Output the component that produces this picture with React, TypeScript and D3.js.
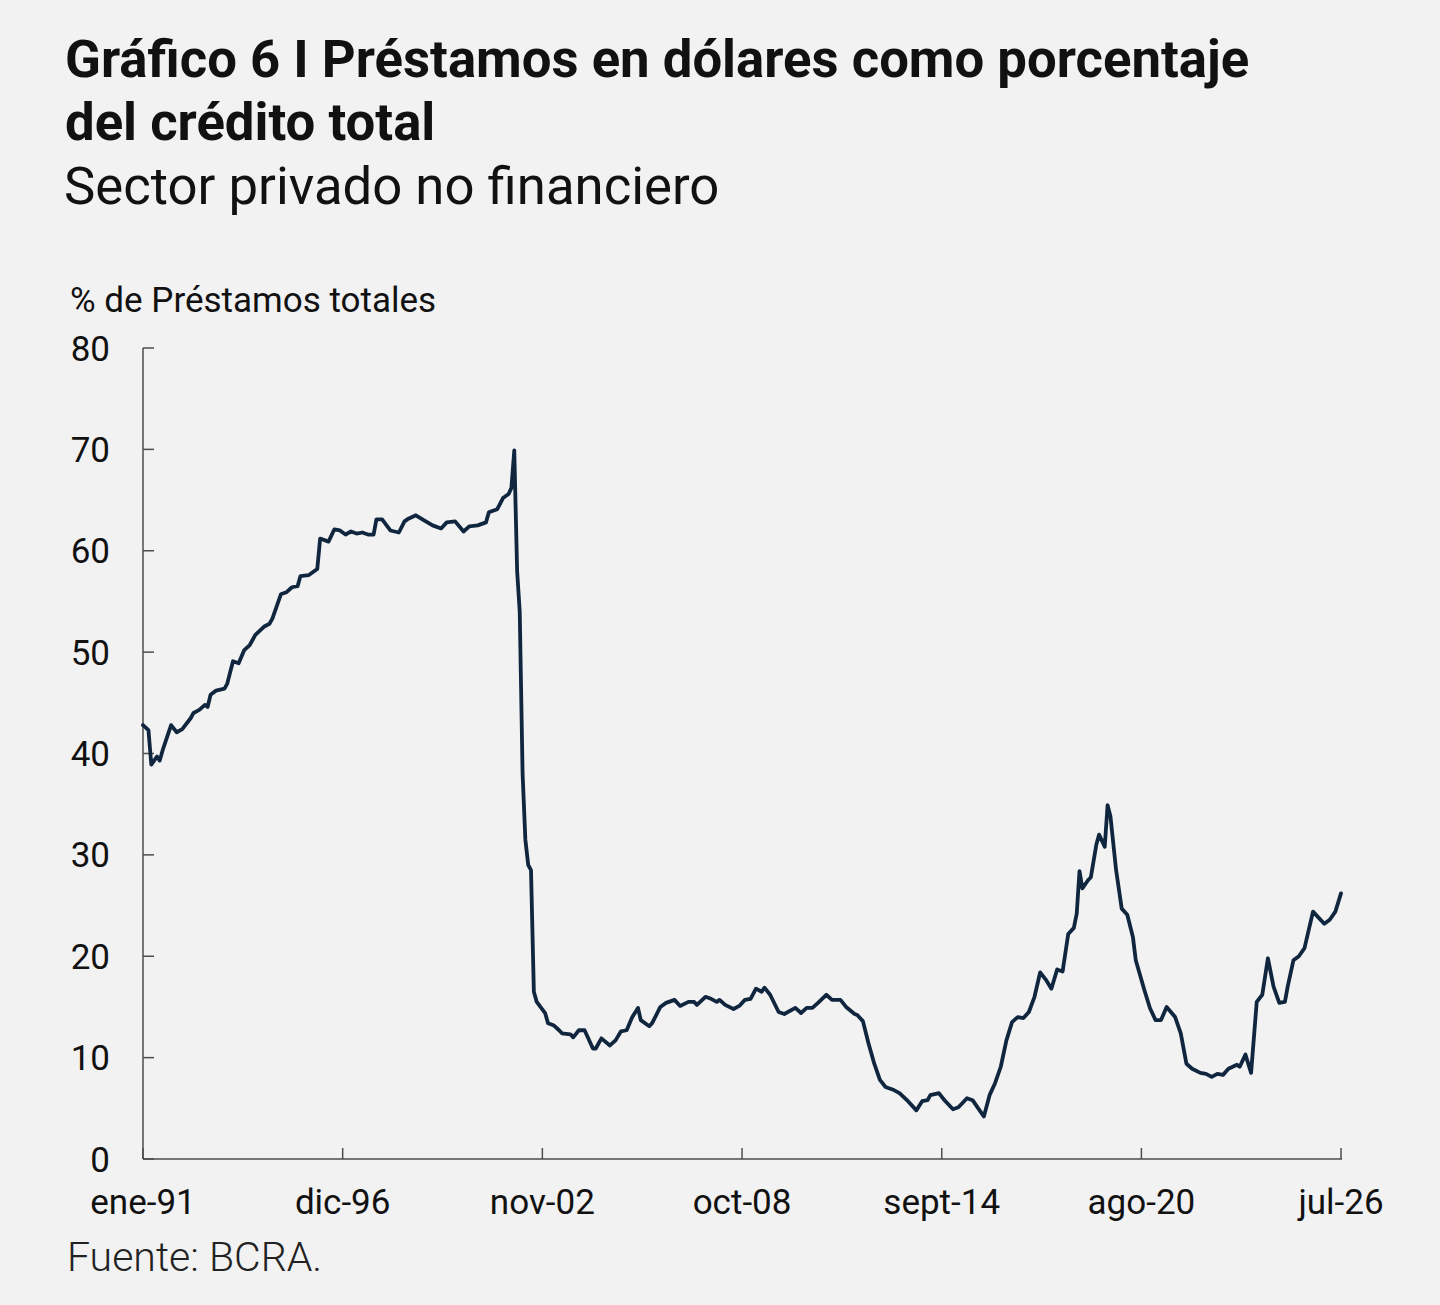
import React from "react";
import * as d3 from "d3";

// Months elapsed since ene-91 (January 1991)
const monthOffsets: number[] = [
  0, 2, 3, 5, 6, 7, 10, 12, 14, 17, 18, 20, 22, 23, 24, 26, 29, 30, 32, 34, 36, 38, 40, 43, 45, 46, 49, 51, 53, 55,
  56, 59, 62, 63, 66, 68, 70, 72, 74, 76, 78, 80, 82, 83, 85, 88, 91, 93, 94, 97, 100, 103, 106, 108, 111, 114, 116,
  119, 122, 123, 126, 128, 130, 131, 132, 133, 134, 135, 136, 137, 138, 139, 140, 143, 144, 146, 148, 149, 152, 153,
  155, 157, 160, 161, 163, 166, 168, 170, 172, 174, 176, 177, 180, 181, 184, 186, 189, 191, 194, 196, 197, 200, 202,
  204, 205, 207, 210, 212, 214, 216, 218, 220, 221, 223, 226, 228, 232, 234, 236, 238, 240, 243, 245, 248, 250, 253,
  254, 256, 258, 260, 262, 264, 267, 269, 272, 275, 277, 279, 280, 283, 285, 288, 290, 293, 295, 297, 299, 301, 303,
  305, 307, 309, 311, 313, 315, 317, 319, 321, 323, 325, 327, 329, 331, 332, 333, 334, 336, 337, 339, 340, 342, 343,
  344, 346, 348, 350, 352, 353, 356, 358, 360, 362, 364, 367, 369, 371, 373, 376, 378, 380, 382, 384, 386, 389, 390,
  392, 394, 396, 398, 400, 402, 404, 406, 407, 409, 411, 413, 416, 420, 422, 424, 426,
];

// % of total loans in dollars
const dollarShare: number[] = [
  42.8, 42.3, 38.9, 39.7, 39.3, 40.3, 42.8, 42.1, 42.4, 43.5, 44.0, 44.3, 44.8, 44.6, 45.8, 46.2, 46.4, 46.9, 49.1,
  48.9, 50.2, 50.7, 51.7, 52.5, 52.8, 53.3, 55.7, 55.9, 56.4, 56.5, 57.5, 57.6, 58.2, 61.2, 60.9, 62.1, 62.0, 61.6,
  61.9, 61.7, 61.8, 61.6, 61.6, 63.1, 63.1, 62.0, 61.8, 62.9, 63.1, 63.5, 63.0, 62.5, 62.2, 62.8, 62.9, 61.9, 62.4,
  62.5, 62.8, 63.8, 64.1, 65.2, 65.6, 66.2, 69.9, 58.0, 54.0, 38.0, 31.5, 29.0, 28.5, 16.5, 15.5, 14.4, 13.4, 13.2,
  12.7, 12.4, 12.3, 12.0, 12.7, 12.7, 10.9, 10.9, 11.9, 11.2, 11.7, 12.6, 12.7, 14.0, 14.9, 13.7, 13.1, 13.4, 15.0,
  15.4, 15.7, 15.1, 15.5, 15.5, 15.2, 16.0, 15.8, 15.5, 15.7, 15.2, 14.8, 15.1, 15.7, 15.8, 16.8, 16.5, 16.9, 16.2,
  14.5, 14.3, 14.9, 14.4, 14.9, 14.9, 15.4, 16.2, 15.7, 15.7, 15.0, 14.3, 14.2, 13.6, 11.4, 9.4, 7.8, 7.1, 6.8, 6.5,
  5.7, 4.8, 5.7, 5.8, 6.3, 6.5, 5.8, 4.9, 5.1, 6.0, 5.8, 5.0, 4.2, 6.3, 7.5, 9.1, 11.7, 13.5, 14.0, 13.9, 14.5, 16.0,
  18.4, 17.7, 16.8, 18.7, 18.5, 22.2, 22.8, 24.2, 28.4, 26.7, 27.5, 27.8, 31.0, 32.0, 30.8, 34.9, 33.8, 28.5, 24.7,
  24.1, 21.9, 19.6, 16.7, 14.9, 13.7, 13.7, 15.0, 14.0, 12.4, 9.4, 8.9, 8.5, 8.4, 8.1, 8.4, 8.3, 8.9, 9.3, 9.1, 10.3,
  8.5, 15.5, 16.2, 19.8, 17.0, 15.4, 15.5, 17.0, 19.6, 20.0, 20.8, 24.4, 23.2, 23.6, 24.4, 26.2,
];

const xTickLabels: string[] = ["ene-91", "dic-96", "nov-02", "oct-08", "sept-14", "ago-20", "jul-26"];
const xTickOffsets: number[] = [0, 71, 142, 213, 284, 355, 426];
const yTicks: number[] = [0, 10, 20, 30, 40, 50, 60, 70, 80];

const titleLines: string[] = ["Gráfico 6 I Préstamos en dólares como porcentaje", "del crédito total"];
const subtitle = "Sector privado no financiero";
const yAxisTitle = "% de Préstamos totales";
const source = "Fuente: BCRA.";

const W = 1440;
const H = 1305;
const FONT = "Roboto, 'Noto Sans', sans-serif";

const toDate = (m: number) => new Date(1991, m, 1);

export default function App() {
  const x = d3.scaleTime().domain([toDate(0), toDate(426)]).range([143, 1341]);
  const y = d3.scaleLinear().domain([0, 80]).range([1159, 348]);

  const points = monthOffsets.map((m, i) => ({ date: toDate(m), value: dollarShare[i] }));
  const line = d3
    .line<{ date: Date; value: number }>()
    .x((d) => x(d.date))
    .y((d) => y(d.value))
    .curve(d3.curveLinear);

  const axisColor = "#4d4d4d";
  const [x0, x1] = x.range();
  const [y0, y1] = y.range();

  return (
    <div style={{ position: "absolute", left: 0, top: 0, width: W, height: H }}>
      <svg width={W} height={H} viewBox={`0 0 ${W} ${H}`} style={{ display: "block" }}>
        <rect x={0} y={0} width={W} height={H} fill="#f2f2f2" />
        {titleLines.map((t, i) => (
          <text
            key={t}
            x={65}
            y={77 + i * 63}
            fontFamily={FONT}
            fontWeight={700}
            fontSize={52.7}
            fill="#111"
          >
            {t}
          </text>
        ))}
        <text x={64} y={204} fontFamily={FONT} fontWeight={400} fontSize={52.7} fill="#111">
          {subtitle}
        </text>
        <text x={70} y={312} fontFamily={FONT} fontWeight={400} fontSize={35} fill="#111">
          {yAxisTitle}
        </text>

        {/* axes */}
        <line x1={x0} x2={x0} y1={y1} y2={y0} stroke={axisColor} strokeWidth={1.5} />
        <line x1={x0} x2={x1 + 1} y1={y0} y2={y0} stroke={axisColor} strokeWidth={1.5} />
        {yTicks.map((t) => (
          <g key={t}>
            <line x1={x0} x2={x0 + 11} y1={y(t)} y2={y(t)} stroke={axisColor} strokeWidth={1.5} />
            <text
              x={110}
              y={y(t)}
              dy="0.36em"
              textAnchor="end"
              fontFamily={FONT}
              fontSize={35}
              fill="#111"
            >
              {t}
            </text>
          </g>
        ))}
        {xTickOffsets.map((m, i) => (
          <g key={m}>
            <line
              x1={x(toDate(m))}
              x2={x(toDate(m))}
              y1={y0}
              y2={y0 - 11}
              stroke={axisColor}
              strokeWidth={1.5}
            />
            <text
              x={x(toDate(m))}
              y={1214}
              textAnchor="middle"
              fontFamily={FONT}
              fontSize={35}
              fill="#111"
            >
              {xTickLabels[i]}
            </text>
          </g>
        ))}

        <path
          d={line(points) ?? ""}
          fill="none"
          stroke="#10263f"
          strokeWidth={3.8}
          strokeLinejoin="round"
          strokeLinecap="round"
        />

        <text x={67} y={1271} fontFamily={FONT} fontWeight={300} fontSize={41} fill="#222">
          {source}
        </text>
      </svg>
    </div>
  );
}
